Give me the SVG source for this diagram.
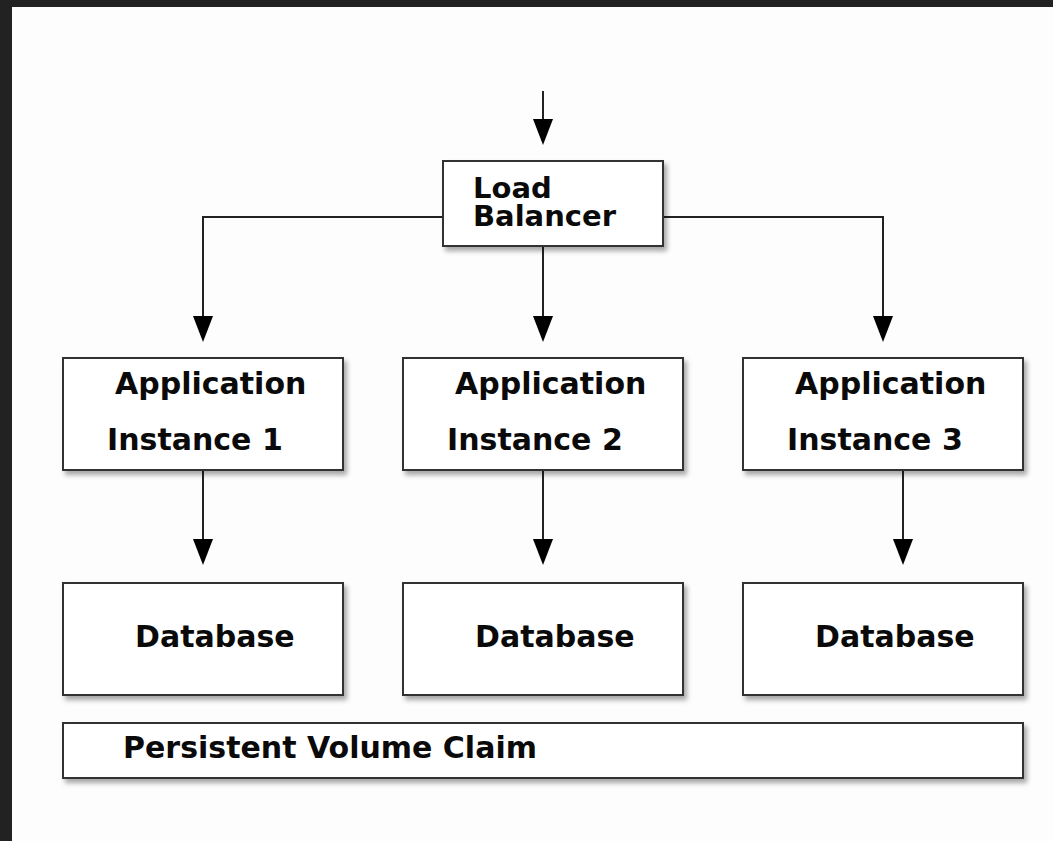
<svg xmlns="http://www.w3.org/2000/svg" width="1053" height="841" viewBox="0 0 1053 841">
  <defs>
    <style>
      .box { fill: #ffffff; stroke: #333333; stroke-width: 2; filter: url(#shadow); }
      .lbl { font-family: "DejaVu Sans", "Liberation Sans", sans-serif; font-weight: bold; font-size: 30px; fill: #0a0a0a; }
      .lb { font-size: 29px; }
      .conn { fill: none; stroke: #222222; stroke-width: 2; marker-end: url(#arrow); }
    </style>
    <filter id="shadow" x="-10%" y="-10%" width="130%" height="140%">
      <feDropShadow dx="3" dy="4" stdDeviation="2.5" flood-color="#000000" flood-opacity="0.35"/>
    </filter>
    <marker id="arrow" markerUnits="userSpaceOnUse" viewBox="0 -11 27 22" refX="16" refY="0" markerWidth="27" markerHeight="22" orient="auto" overflow="visible">
      <path d="M0,-10 L26,0 L0,10 z" fill="#000000"/>
    </marker>
  </defs>
  <rect x="0" y="0" width="1053" height="841" fill="#222222"/>
  <rect x="12" y="7" width="1041" height="834" fill="#fdfdfd"/>

  <g id="connectors">
    <path class="conn" d="M543,91 V135"/>
    <path class="conn" d="M443,217 H203 V332"/>
    <path class="conn" d="M543,246 V332"/>
    <path class="conn" d="M663,217 H883 V332"/>
    <path class="conn" d="M203,470 V555"/>
    <path class="conn" d="M543,470 V555"/>
    <path class="conn" d="M903,470 V555"/>
  </g>

  <g id="load-balancer">
    <rect class="box" x="443" y="161" width="220" height="85"/>
    <text class="lbl lb" x="473" y="198">Load</text>
    <text class="lbl lb" x="473" y="226">Balancer</text>
  </g>

  <g id="app1">
    <rect class="box" x="63" y="358" width="280" height="112"/>
    <text class="lbl" x="115" y="394">Application</text>
    <text class="lbl" x="107" y="450">Instance 1</text>
  </g>
  <g id="app2">
    <rect class="box" x="403" y="358" width="280" height="112"/>
    <text class="lbl" x="455" y="394">Application</text>
    <text class="lbl" x="447" y="450">Instance 2</text>
  </g>
  <g id="app3">
    <rect class="box" x="743" y="358" width="280" height="112"/>
    <text class="lbl" x="795" y="394">Application</text>
    <text class="lbl" x="787" y="450">Instance 3</text>
  </g>

  <g id="db1">
    <rect class="box" x="63" y="583" width="280" height="112"/>
    <text class="lbl" x="135" y="647">Database</text>
  </g>
  <g id="db2">
    <rect class="box" x="403" y="583" width="280" height="112"/>
    <text class="lbl" x="475" y="647">Database</text>
  </g>
  <g id="db3">
    <rect class="box" x="743" y="583" width="280" height="112"/>
    <text class="lbl" x="815" y="647">Database</text>
  </g>

  <g id="pvc">
    <rect class="box" x="63" y="723" width="960" height="55"/>
    <text class="lbl" x="123" y="758">Persistent Volume Claim</text>
  </g>
</svg>
